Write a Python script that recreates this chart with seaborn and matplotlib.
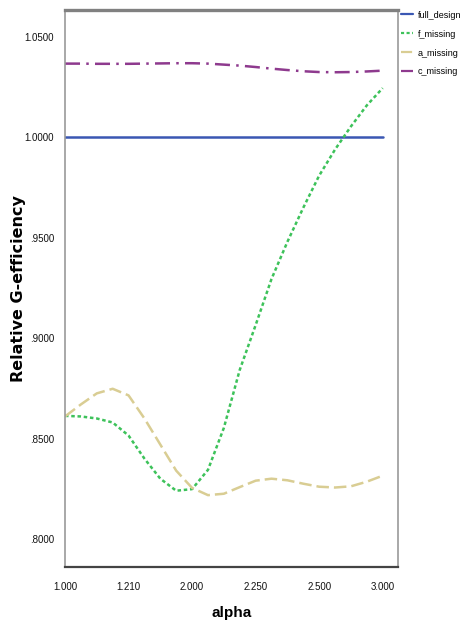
import matplotlib
matplotlib.use("Agg")
import matplotlib.pyplot as plt
import seaborn as sns
import pandas as pd

# alpha levels shown on the horizontal axis (equally spaced categories)
alpha_labels = ["1.000", "1.210", "2.000", "2.250", "2.500", "3.000"]

# positions along the alpha axis (in category units) where the curves were evaluated
alpha_pos = [0.0, 0.25, 0.5, 0.75, 1.0, 1.25, 1.5, 1.75, 2.0, 2.25, 2.5,
             2.75, 3.0, 3.25, 3.5, 3.75, 4.0, 4.25, 4.5, 4.75, 5.0]

full_design = [1.0000] * 21
f_missing = [0.8613, 0.8610, 0.8600, 0.8580, 0.8515, 0.8400, 0.8300, 0.8240,
             0.8248, 0.8344, 0.8553, 0.8842, 0.9065, 0.9295, 0.9480, 0.9650,
             0.9810, 0.9940, 1.0055, 1.0160, 1.0246]
a_missing = [0.8610, 0.8670, 0.8725, 0.8748, 0.8715, 0.8600, 0.8470, 0.8340,
             0.8254, 0.8218, 0.8225, 0.8258, 0.8290, 0.8300, 0.8292, 0.8275,
             0.8260, 0.8256, 0.8262, 0.8285, 0.8315]
c_missing = [1.0368, 1.0368, 1.0367, 1.0367, 1.0367, 1.0368, 1.0369, 1.0370,
             1.0370, 1.0368, 1.0363, 1.0358, 1.0351, 1.0343, 1.0336, 1.0330,
             1.0326, 1.0325, 1.0326, 1.0329, 1.0333]

series_names = ["full_design", "f_missing", "a_missing", "c_missing"]
series_values = [full_design, f_missing, a_missing, c_missing]

frames = []
for name, vals in zip(series_names, series_values):
    frames.append(pd.DataFrame({"alpha": alpha_pos, "eff": vals, "design": name}))
df = pd.concat(frames, ignore_index=True)

sns.set_style("white")
plt.rcParams["font.family"] = ["Liberation Sans", "DejaVu Sans"]
plt.rcParams["text.color"] = "#000000"
plt.rcParams["axes.labelcolor"] = "#000000"

fig = plt.figure(figsize=(4.65, 6.27), dpi=100)
ax = fig.add_axes([0.1398, 0.0957, 0.716, 0.8883])

palette = {"full_design": "#3a57b3", "f_missing": "#3dc25a",
           "a_missing": "#d9cd93", "c_missing": "#8e3a8e"}
dashes = {"full_design": "", "f_missing": (1.4, 1.1),
          "a_missing": (5, 2), "c_missing": (6, 2.5, 1, 2.5)}

sns.lineplot(data=df, x="alpha", y="eff", hue="design", style="design",
             palette=palette, dashes=dashes, hue_order=series_names,
             style_order=series_names, linewidth=1.8, ax=ax)
for line in ax.get_lines():
    if line.get_label() == "full_design":
        line.set_linewidth(2.2)

ax.set_xlim(0, 5.24)
ax.set_ylim(0.786, 1.0635)
ax.set_xticks(range(len(alpha_labels)))
ax.set_xticklabels(alpha_labels)
ax.set_yticks([0.80, 0.85, 0.90, 0.95, 1.00, 1.05])
ax.set_yticklabels([".8000", ".8500", ".9000", ".9500", "1.0000", "1.0500"])
ax.tick_params(axis="both", direction="out", length=5, width=1.5,
               color="#222222", labelsize=7, labelcolor="#111111", pad=3)
ax.tick_params(axis="x", pad=6)

ax.set_xlabel("alpha", fontsize=11, fontweight="bold", labelpad=10)
ax.set_ylabel("Relative G-efficiency", fontsize=11.5, fontweight="bold",
              family=["DejaVu Sans"])
ax.yaxis.set_label_coords(-0.118, 0.5)

for side in ["left", "right"]:
    ax.spines[side].set_color("#999999")
    ax.spines[side].set_linewidth(1.2)
ax.spines["top"].set_color("#808080")
ax.spines["top"].set_linewidth(2.4)
ax.spines["bottom"].set_color("#444444")
ax.spines["bottom"].set_linewidth(1.6)

leg = ax.legend(loc="upper left", bbox_to_anchor=(0.995, 1.007), frameon=False,
                handlelength=1.4, handletextpad=0.5, labelspacing=1.1,
                borderaxespad=0.1, fontsize=6.5, title=None)
for h in leg.get_lines():
    h.set_linewidth(1.6)

fig.savefig("out.png", dpi=100)
